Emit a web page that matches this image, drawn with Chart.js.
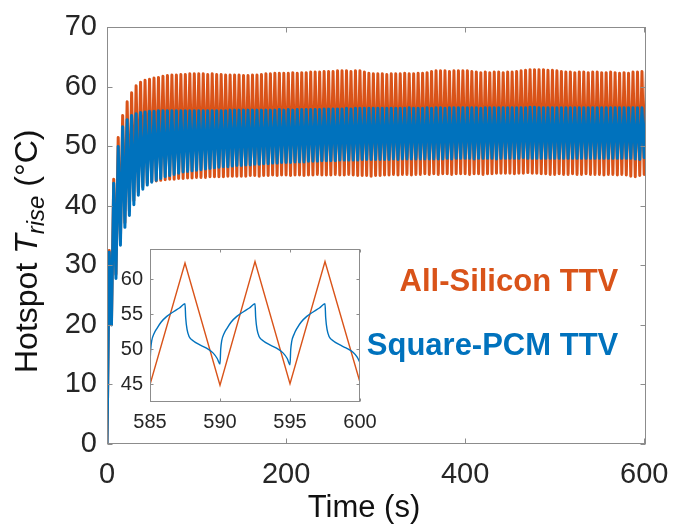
<!DOCTYPE html>
<html>
<head>
<meta charset="utf-8">
<script src="https://cdn.jsdelivr.net/npm/chart.js@4.4.0/dist/chart.umd.min.js"></script>
<style>
  html, body { margin: 0; padding: 0; background: #fff; }
  #wrap { position: relative; width: 697px; height: 527px; }
  #main { position: absolute; left: 0; top: 0; }
  #inset { position: absolute; left: 100px; top: 230px; }
</style>
</head>
<body>
<div id="wrap">
  <canvas id="main" width="697" height="527"></canvas>
  <canvas id="inset" width="285" height="210"></canvas>
</div>
<script>
// --- data ---
const seriesNames = ['All-Silicon TTV', 'Square-PCM TTV'];
const PERIOD = 5; // s, troughs at k*PERIOD, peaks half a period later

// All-Silicon TTV: troughs at t = 0, 5, ..., 600
const orangeTroughs = [
  0, 20.5, 28.5, 34.2, 37.2, 39.2, 40.9, 42.3, 43.2, 43.8,
  44.1, 44.2, 44.3, 44.4, 44.5, 44.5, 44.6, 44.6, 44.7, 44.7,
  44.8, 44.8, 44.8, 44.9, 44.9, 44.9, 44.9, 45.0, 45.0, 45.0,
  45.0, 45.0, 45.1, 45.1, 45.0, 45.1, 45.1, 45.2, 45.1, 45.2,
  45.2, 45.1, 45.2, 45.2, 45.1, 45.2, 45.2, 45.3, 45.2, 45.2,
  45.2, 45.3, 45.2, 45.2, 45.3, 45.2, 45.1, 45.1, 45.1, 45.0,
  45.1, 45.1, 45.2, 45.2, 45.3, 45.2, 45.3, 45.3, 45.2, 45.3,
  45.3, 45.4, 45.3, 45.4, 45.3, 45.4, 45.4, 45.3, 45.4, 45.4,
  45.4, 45.3, 45.4, 45.4, 45.3, 45.4, 45.4, 45.5, 45.5, 45.5,
  45.5, 45.4, 45.5, 45.5, 45.6, 45.5, 45.5, 45.4, 45.4, 45.3,
  45.3, 45.4, 45.3, 45.3, 45.4, 45.3, 45.3, 45.4, 45.3, 45.3,
  45.3, 45.2, 45.3, 45.3, 45.2, 45.3, 45.2, 45.0, 44.9, 45.1,
  45.3
];
// All-Silicon TTV: peaks at t = 2.5, 7.5, ..., 602.5
const orangePeaks = [
  32.5, 44.5, 51.5, 55.2, 57.5, 59.0, 60.2, 60.8, 61.1, 61.3,
  61.5, 61.6, 61.8, 61.9, 62.0, 62.0, 62.1, 62.1, 62.2, 62.2,
  62.2, 62.2, 62.1, 62.2, 62.1, 62.1, 62.0, 62.0, 62.0, 62.0,
  61.9, 61.9, 62.0, 62.0, 62.1, 62.2, 62.2, 62.3, 62.3, 62.3,
  62.3, 62.4, 62.3, 62.4, 62.4, 62.5, 62.5, 62.5, 62.6, 62.6,
  62.6, 62.7, 62.7, 62.7, 62.6, 62.7, 62.7, 62.5, 62.3, 62.2,
  62.2, 62.2, 62.1, 62.2, 62.2, 62.2, 62.3, 62.2, 62.2, 62.3,
  62.3, 62.4, 62.6, 62.7, 62.7, 62.7, 62.6, 62.7, 62.7, 62.7,
  62.7, 62.6, 62.5, 62.4, 62.5, 62.4, 62.5, 62.5, 62.4, 62.5,
  62.5, 62.6, 62.7, 62.8, 62.9, 62.9, 62.9, 62.9, 62.8, 62.8,
  62.7, 62.6, 62.5, 62.5, 62.4, 62.5, 62.5, 62.4, 62.5, 62.5,
  62.4, 62.4, 62.5, 62.4, 62.3, 62.4, 62.3, 62.5, 62.5, 62.6,
  62.6
];
// Square-PCM TTV: troughs at t = 0, 5, ..., 600
const blueTroughs = [
  0, 20.0, 27.8, 33.4, 36.4, 38.4, 40.2, 41.8, 42.8, 43.5,
  44.0, 44.3, 44.6, 44.9, 45.1, 45.3, 45.5, 45.7, 45.8, 45.9,
  46.0, 46.1, 46.2, 46.3, 46.4, 46.5, 46.6, 46.6, 46.7, 46.8,
  46.8, 46.9, 46.9, 47.0, 47.0, 47.1, 47.1, 47.2, 47.2, 47.3,
  47.3, 47.3, 47.4, 47.4, 47.4, 47.5, 47.5, 47.5, 47.6, 47.6,
  47.6, 47.6, 47.7, 47.7, 47.7, 47.7, 47.7, 47.8, 47.8, 47.8,
  47.8, 47.8, 47.8, 47.8, 47.9, 47.8, 47.9, 47.9, 47.9, 47.9,
  47.9, 47.9, 47.9, 47.9, 47.9, 47.9, 48.0, 47.9, 48.0, 48.0,
  48.0, 48.0, 47.9, 48.0, 48.0, 48.0, 48.0, 47.9, 48.0, 48.0,
  48.0, 48.0, 48.0, 48.1, 48.0, 48.0, 48.0, 48.0, 48.0, 48.0,
  48.0, 48.0, 48.0, 48.0, 48.0, 48.0, 48.0, 48.0, 48.0, 48.0,
  48.0, 48.0, 48.0, 48.0, 48.0, 48.0, 48.0, 48.0, 47.9, 47.8,
  48.1
];
// Square-PCM TTV: peaks at t = 2.5, 7.5, ..., 602.5
const bluePeaks = [
  32.2, 43.8, 50.0, 53.3, 54.5, 55.2, 55.5, 55.7, 55.8, 55.9,
  55.9, 56.0, 56.0, 56.0, 56.0, 56.0, 56.0, 56.0, 56.0, 56.0,
  56.0, 56.0, 56.0, 56.0, 56.0, 56.0, 56.0, 56.1, 56.1, 56.1,
  56.1, 56.1, 56.1, 56.1, 56.1, 56.1, 56.1, 56.1, 56.2, 56.1,
  56.2, 56.1, 56.2, 56.2, 56.2, 56.2, 56.2, 56.2, 56.3, 56.3,
  56.3, 56.3, 56.3, 56.4, 56.3, 56.4, 56.4, 56.4, 56.4, 56.4,
  56.4, 56.4, 56.4, 56.4, 56.4, 56.4, 56.4, 56.5, 56.4, 56.4,
  56.4, 56.5, 56.4, 56.5, 56.5, 56.4, 56.5, 56.5, 56.5, 56.5,
  56.5, 56.5, 56.5, 56.4, 56.5, 56.5, 56.5, 56.5, 56.5, 56.5,
  56.5, 56.5, 56.5, 56.5, 56.6, 56.6, 56.5, 56.5, 56.5, 56.5,
  56.5, 56.5, 56.5, 56.5, 56.5, 56.5, 56.5, 56.5, 56.5, 56.5,
  56.5, 56.5, 56.5, 56.5, 56.5, 56.5, 56.5, 56.5, 56.5, 56.5,
  56.5
];

// inset, 585–600 s
const insetOrangeT = [585, 587.5, 590, 592.5, 595, 597.5, 600];
const insetOrangeV = [45.0, 62.3, 44.9, 62.5, 45.1, 62.5, 45.3];
const insetBlueT = [
  585, 585.05, 585.12, 585.3, 585.5, 585.8, 586.2, 586.7, 587.1, 587.5,
  587.55, 587.65, 587.8, 588.1, 588.5, 589, 589.5, 589.8,
  590, 590.05, 590.12, 590.3, 590.5, 590.8, 591.2, 591.7, 592.1, 592.5,
  592.55, 592.65, 592.8, 593.1, 593.5, 594, 594.5, 594.8,
  595, 595.05, 595.12, 595.3, 595.5, 595.8, 596.2, 596.7, 597.1, 597.5,
  597.55, 597.65, 597.8, 598.1, 598.5, 599, 599.5, 599.8, 600
];
const insetBlueV = [
  48.0, 50.0, 51.2, 52.3, 53.0, 53.9, 54.7, 55.4, 55.9, 56.5,
  54.5, 52.8, 51.8, 51.2, 50.7, 50.2, 49.5, 48.7,
  47.9, 50.0, 51.2, 52.3, 53.0, 53.9, 54.7, 55.4, 55.9, 56.5,
  54.5, 52.8, 51.8, 51.2, 50.7, 50.2, 49.5, 48.7,
  47.8, 49.9, 51.1, 52.2, 53.0, 53.9, 54.7, 55.4, 55.9, 56.5,
  54.5, 52.8, 51.8, 51.2, 50.7, 50.2, 49.6, 48.9, 48.1
];

const xTicksMain = [0, 200, 400, 600];
const yTicksMain = [0, 10, 20, 30, 40, 50, 60, 70];
const xTicksInset = [585, 590, 595, 600];
const yTicksInset = [45, 50, 55, 60];

// --- style ---
const ORANGE = '#D95319';
const BLUE = '#0072BD';
const AXIS = '#8c8c8c';
const TICKTXT = '#262626';
const FONT = '"Liberation Sans", Arial, sans-serif';

// interleave troughs and peaks into one time series
function buildSeries(troughs, peaks) {
  const pts = [];
  for (let k = 0; k < troughs.length; k++) {
    pts.push({ x: k * PERIOD, y: troughs[k] });
    if (k < peaks.length) pts.push({ x: k * PERIOD + PERIOD / 2, y: peaks[k] });
  }
  return pts;
}
const zipXY = (xs, ys) => xs.map((x, i) => ({ x, y: ys[i] }));

// box around the axes with inward ticks on all four sides (MATLAB look)
const frame = {
  id: 'frame',
  beforeDatasetsDraw(chart, args, o) {
    if (!o.fill) return;
    const a = chart.chartArea;
    chart.ctx.save();
    chart.ctx.fillStyle = o.fill;
    chart.ctx.fillRect(a.left, a.top, a.right - a.left, a.bottom - a.top);
    chart.ctx.restore();
  },
  afterDraw(chart, args, o) {
    const { ctx, chartArea: a, scales: { x, y } } = chart;
    const L = Math.round(a.left) + 0.5, R = Math.round(a.right) - 0.5;
    const T = Math.round(a.top) + 0.5, B = Math.round(a.bottom) - 0.5;
    ctx.save();
    ctx.strokeStyle = o.color;
    ctx.lineWidth = 1;
    ctx.strokeRect(L, T, R - L, B - T);
    ctx.beginPath();
    x.ticks.forEach(t => {
      const px = Math.round(x.getPixelForValue(t.value)) + 0.5;
      ctx.moveTo(px, B); ctx.lineTo(px, B - o.len);
      ctx.moveTo(px, T); ctx.lineTo(px, T + o.len);
    });
    y.ticks.forEach(t => {
      const py = Math.round(y.getPixelForValue(t.value)) + 0.5;
      ctx.moveTo(L, py); ctx.lineTo(L + o.len, py);
      ctx.moveTo(R, py); ctx.lineTo(R - o.len, py);
    });
    ctx.stroke();
    ctx.restore();
  }
};

// axis titles and series annotations of the main plot
const texts = {
  id: 'texts',
  afterDraw(chart) {
    const { ctx, scales: { x, y } } = chart;
    ctx.save();
    ctx.textBaseline = 'alphabetic';
    ctx.textAlign = 'right';
    ctx.font = 'bold 31px ' + FONT;
    ctx.fillStyle = ORANGE;
    ctx.fillText(seriesNames[0], x.getPixelForValue(571), y.getPixelForValue(25.7));
    ctx.fillStyle = BLUE;
    ctx.fillText(seriesNames[1], x.getPixelForValue(571), y.getPixelForValue(15.0));

    ctx.fillStyle = '#111';
    ctx.textAlign = 'center';
    ctx.font = '31px ' + FONT;
    ctx.fillText('Time (s)', 364, 517);

    // y title: "Hotspot T_rise (°C)"
    ctx.translate(37, 373);
    ctx.rotate(-Math.PI / 2);
    ctx.textAlign = 'left';
    let cx = 0;
    const part = (s, font, dy) => {
      ctx.font = font;
      ctx.fillText(s, cx, dy);
      cx += ctx.measureText(s).width;
    };
    part('Hotspot ', '32px ' + FONT, 0);
    part('T', 'italic 32px ' + FONT, 0);
    part('rise', 'italic 24px ' + FONT, 7);
    part(' (°C)', '32px ' + FONT, 0);
    ctx.restore();
  }
};

Chart.defaults.font.family = FONT;
Chart.defaults.color = TICKTXT;

new Chart(document.getElementById('main'), {
  type: 'line',
  data: {
    datasets: [
      { label: seriesNames[1], data: buildSeries(blueTroughs, bluePeaks),
        borderColor: BLUE, borderWidth: 3, borderJoinStyle: 'round',
        pointRadius: 0, tension: 0 },
      { label: seriesNames[0], data: buildSeries(orangeTroughs, orangePeaks),
        borderColor: ORANGE, borderWidth: 3, borderJoinStyle: 'round',
        pointRadius: 0, tension: 0 }
    ]
  },
  options: {
    responsive: false,
    animation: false,
    events: [],
    layout: { padding: { left: 0, top: 19, right: 51, bottom: 0 } },
    plugins: {
      legend: { display: false },
      tooltip: { enabled: false },
      frame: { color: AXIS, len: 5 }
    },
    scales: {
      x: {
        type: 'linear', min: 0, max: 602,
        grid: { display: false, drawTicks: false },
        border: { display: false },
        afterBuildTicks: s => { s.ticks = xTicksMain.map(v => ({ value: v })); },
        afterFit: s => { s.height = 83; },
        ticks: { padding: 14, font: { size: 29 }, color: TICKTXT }
      },
      y: {
        type: 'linear', min: 0, max: 70,
        grid: { display: false, drawTicks: false },
        border: { display: false },
        afterBuildTicks: s => { s.ticks = yTicksMain.map(v => ({ value: v })); },
        afterFit: s => { s.width = 107; },
        ticks: { padding: 10, font: { size: 29 }, color: TICKTXT }
      }
    }
  },
  plugins: [frame, texts]
});

new Chart(document.getElementById('inset'), {
  type: 'line',
  data: {
    datasets: [
      { label: seriesNames[1], data: zipXY(insetBlueT, insetBlueV),
        borderColor: BLUE, borderWidth: 1.4, pointRadius: 0, cubicInterpolationMode: 'monotone' },
      { label: seriesNames[0], data: zipXY(insetOrangeT, insetOrangeV),
        borderColor: ORANGE, borderWidth: 1.4, pointRadius: 0, tension: 0 }
    ]
  },
  options: {
    responsive: false,
    animation: false,
    events: [],
    layout: { padding: { left: 0, top: 15, right: 25, bottom: 0 } },
    plugins: {
      legend: { display: false },
      tooltip: { enabled: false },
      frame: { color: AXIS, len: 3, fill: '#fff' }
    },
    scales: {
      x: {
        type: 'linear', min: 585, max: 600,
        grid: { display: false, drawTicks: false },
        border: { display: false },
        afterBuildTicks: s => { s.ticks = xTicksInset.map(v => ({ value: v })); },
        afterFit: s => { s.height = 38; },
        ticks: { padding: 8, font: { size: 20 }, color: TICKTXT }
      },
      y: {
        type: 'linear', min: 42.5, max: 64.3,
        grid: { display: false, drawTicks: false },
        border: { display: false },
        afterBuildTicks: s => { s.ticks = yTicksInset.map(v => ({ value: v })); },
        afterFit: s => { s.width = 50; },
        ticks: { padding: 7, font: { size: 20 }, color: TICKTXT }
      }
    }
  },
  plugins: [frame]
});
</script>
</body>
</html>
